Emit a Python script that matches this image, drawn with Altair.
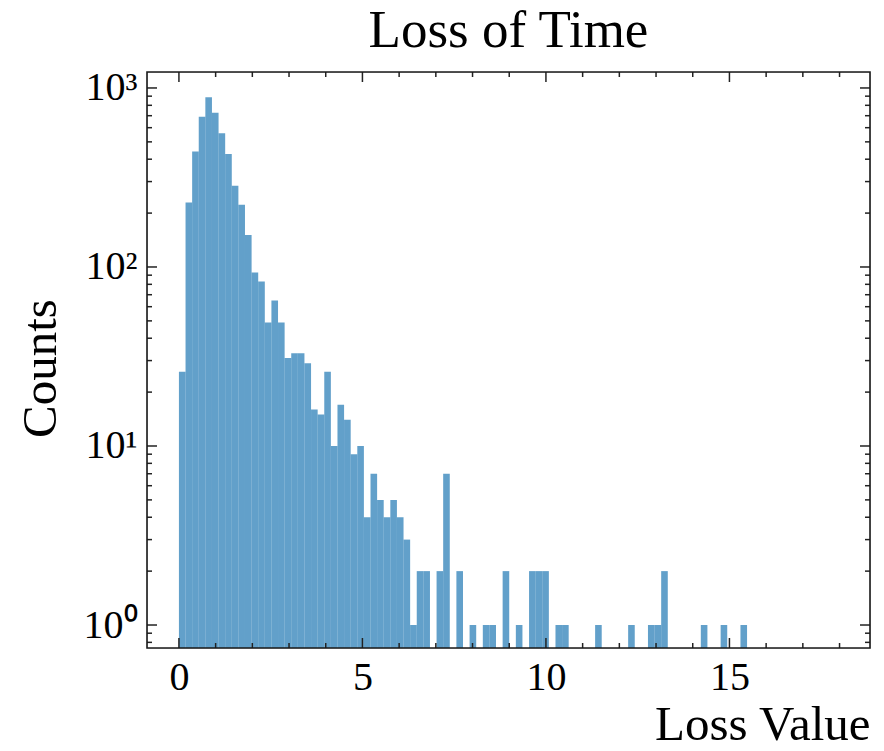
import altair as alt
import pandas as pd

# Histogram counts per bin (bin width ~0.18, starting at 0)
counts = [26, 229, 441, 691, 887, 728, 558, 428, 284, 223,
          151, 93, 83, 49, 65, 49, 31, 33, 33, 29,
          16, 15, 26, 10, 17, 14, 9, 10, 4, 7,
          5, 4, 5, 4, 3, 1, 2, 2, 0, 2,
          7, 0, 2, 0, 1, 0, 1, 1, 0, 2,
          0, 1, 0, 2, 2, 2, 0, 1, 1, 0,
          0, 0, 0, 1, 0, 0, 0, 0, 1, 0,
          0, 1, 1, 2, 0, 0, 0, 0, 0, 1,
          0, 0, 1, 0, 0, 1]
bin_start = 0.0
bin_width = 0.18

x_major = [0, 5, 10, 15]
x_minor = [1, 2, 3, 4, 6, 7, 8, 9, 11, 12, 13, 14, 16, 17, 18]
y_major = [1, 10, 100, 1000]
y_minor = [0.8, 0.9] + [m * d for d in (1, 10, 100) for m in range(2, 10)]

W, H = 723, 576
FONT = "Liberation Serif"

df = pd.DataFrame({
    "start": [bin_start + i * bin_width for i in range(len(counts))],
    "end": [bin_start + (i + 1) * bin_width for i in range(len(counts))],
    "count": counts,
})
df = df[df["count"] > 0]

xs = alt.Scale(domain=[-0.87, 18.83], nice=False, zero=False)
ys = alt.Scale(type="log", domain=[0.744, 1228], nice=False)

xaxis = alt.Axis(values=x_major, ticks=False, domain=False, grid=False,
                 labelFont=FONT, labelFontSize=40, labelColor="black", labelPadding=9,
                 titleFont=FONT, titleFontSize=49, titleFontWeight="normal", titleColor="black",
                 titleX=W, titleY=91, titleAlign="right", titleBaseline="alphabetic")
yaxis = alt.Axis(values=y_major, ticks=False, domain=False, grid=False,
                 labelExpr="datum.value == 1 ? '10⁰' : datum.value == 10 ? '10¹' : datum.value == 100 ? '10²' : '10³'",
                 labelFont=FONT, labelFontSize=40, labelColor="black", labelPadding=10,
                 titleFont=FONT, titleFontSize=49, titleFontWeight="normal", titleColor="black",
                 titleX=-92, titleY=296, titleAngle=-90, titleAlign="center", titleBaseline="alphabetic")

bars = alt.Chart(df).mark_rect(color="#1f77b4", opacity=0.7).encode(
    x=alt.X("start:Q", scale=xs, axis=xaxis, title="Loss Value"),
    x2="end:Q",
    y=alt.Y("count:Q", scale=ys, axis=yaxis, title="Counts"),
    y2=alt.value(H),
)

TICK = "#222222"

def xticks(vals, length):
    d = pd.DataFrame({"v": vals})
    bottom = alt.Chart(d).mark_rule(color=TICK, strokeWidth=1.5).encode(
        x=alt.X("v:Q", scale=xs, axis=xaxis, title="Loss Value"),
        y=alt.value(H), y2=alt.value(H - length))
    top = alt.Chart(d).mark_rule(color=TICK, strokeWidth=1.5).encode(
        x=alt.X("v:Q", scale=xs, axis=xaxis, title="Loss Value"),
        y=alt.value(0), y2=alt.value(length))
    return [bottom, top]

def yticks(vals, length):
    d = pd.DataFrame({"v": vals})
    left = alt.Chart(d).mark_rule(color=TICK, strokeWidth=1.5).encode(
        y=alt.Y("v:Q", scale=ys, axis=yaxis, title="Counts"),
        x=alt.value(0), x2=alt.value(length))
    right = alt.Chart(d).mark_rule(color=TICK, strokeWidth=1.5).encode(
        y=alt.Y("v:Q", scale=ys, axis=yaxis, title="Counts"),
        x=alt.value(W), x2=alt.value(W - length))
    return [left, right]

frame = alt.Chart(pd.DataFrame({"a": [0]})).mark_rect(
    fill=None, fillOpacity=0, stroke="#1a1a1a", strokeWidth=1.6
).encode(x=alt.value(0), x2=alt.value(W), y=alt.value(0), y2=alt.value(H))

layers = [bars] + xticks(x_major, 10) + xticks(x_minor, 5) + yticks(y_major, 10) + yticks(y_minor, 5) + [frame]

chart = alt.layer(*layers).properties(
    width=W, height=H,
    title=alt.TitleParams("Loss of Time", font=FONT, fontSize=53, fontWeight="normal",
                          color="black", anchor="middle", offset=10),
    autosize=alt.AutoSizeParams(type="none"),
    padding={"left": 147, "top": 72, "right": 14, "bottom": 103},
).configure_view(stroke=None).configure(background="white")

chart.save("out.html", embed_options={"renderer": "svg", "actions": False})
